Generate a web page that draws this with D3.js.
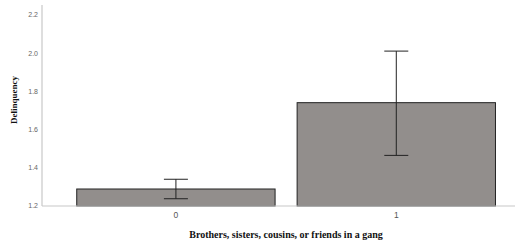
<!DOCTYPE html>
<html>
<head>
<meta charset="utf-8">
<script src="https://cdn.jsdelivr.net/npm/d3@7"></script>
<style>
  body { margin: 0; background: #fff; }
  svg { display: block; }
</style>
</head>
<body>
<div id="chart"></div>
<script>
// data
const categories = ["0", "1"];
const means = [1.289, 1.741];
const ciLow = [1.238, 1.465];
const ciHigh = [1.340, 2.011];
const yTicks = [1.2, 1.4, 1.6, 1.8, 2.0, 2.2];

const W = 515, H = 241;
const svg = d3.select("#chart").append("svg")
    .attr("width", W)
    .attr("height", H);

const plotLeft = 42, plotRight = 515, plotTop = 15, plotBottom = 206;

const x = d3.scaleBand()
    .domain(categories)
    .range([54.7, 517.5])
    .paddingInner(0.1)
    .paddingOuter(0.1);

const y = d3.scaleLinear()
    .domain([1.2, 2.2])
    .range([plotBottom, plotTop]);

// bars
svg.selectAll(".bar")
    .data(categories)
    .enter().append("rect")
    .attr("class", "bar")
    .attr("x", d => x(d))
    .attr("width", x.bandwidth())
    .attr("y", (d, i) => y(means[i]))
    .attr("height", (d, i) => plotBottom - y(means[i]))
    .attr("fill", "#928e8c")
    .attr("stroke", "#222")
    .attr("stroke-width", 1);

// axes lines
svg.append("line")
    .attr("x1", plotLeft).attr("x2", plotLeft)
    .attr("y1", 5).attr("y2", plotBottom)
    .attr("stroke", "#c8c8c8").attr("stroke-width", 1.2);
svg.append("line")
    .attr("x1", plotLeft).attr("x2", plotRight)
    .attr("y1", plotBottom).attr("y2", plotBottom)
    .attr("stroke", "#c8c8c8").attr("stroke-width", 1.2);

// error bars
const cap = 12;
const eb = svg.selectAll(".eb")
    .data(categories)
    .enter().append("g")
    .attr("class", "eb")
    .attr("stroke", "#222")
    .attr("stroke-width", 1);
eb.append("line")
    .attr("x1", d => x(d) + x.bandwidth() / 2)
    .attr("x2", d => x(d) + x.bandwidth() / 2)
    .attr("y1", (d, i) => y(ciLow[i]))
    .attr("y2", (d, i) => y(ciHigh[i]));
eb.append("line")
    .attr("x1", d => x(d) + x.bandwidth() / 2 - cap)
    .attr("x2", d => x(d) + x.bandwidth() / 2 + cap)
    .attr("y1", (d, i) => y(ciHigh[i]))
    .attr("y2", (d, i) => y(ciHigh[i]));
eb.append("line")
    .attr("x1", d => x(d) + x.bandwidth() / 2 - cap)
    .attr("x2", d => x(d) + x.bandwidth() / 2 + cap)
    .attr("y1", (d, i) => y(ciLow[i]))
    .attr("y2", (d, i) => y(ciLow[i]));

// y tick labels
svg.selectAll(".ytick")
    .data(yTicks)
    .enter().append("text")
    .attr("class", "ytick")
    .attr("x", 38)
    .attr("y", d => y(d))
    .attr("dy", "0.35em")
    .attr("text-anchor", "end")
    .attr("font-family", "Liberation Sans, Arial, sans-serif")
    .attr("font-size", 7)
    .attr("fill", "#666")
    .text(d => d.toFixed(1));

// x tick labels
svg.selectAll(".xtick")
    .data(categories)
    .enter().append("text")
    .attr("class", "xtick")
    .attr("x", d => x(d) + x.bandwidth() / 2)
    .attr("y", 218)
    .attr("text-anchor", "middle")
    .attr("font-family", "Liberation Sans, Arial, sans-serif")
    .attr("font-size", 8.5)
    .attr("fill", "#555")
    .text(d => d);

// axis titles
svg.append("text")
    .attr("x", 286)
    .attr("y", 238)
    .attr("text-anchor", "middle")
    .attr("font-family", "Liberation Serif, Times New Roman, serif")
    .attr("font-weight", "bold")
    .attr("font-size", 10)
    .attr("fill", "#111")
    .text("Brothers, sisters, cousins, or friends in a gang");

svg.append("text")
    .attr("transform", "translate(17,100) rotate(-90)")
    .attr("text-anchor", "middle")
    .attr("font-family", "Liberation Serif, Times New Roman, serif")
    .attr("font-weight", "bold")
    .attr("font-size", 9)
    .attr("fill", "#111")
    .text("Delinquency");
</script>
</body>
</html>
